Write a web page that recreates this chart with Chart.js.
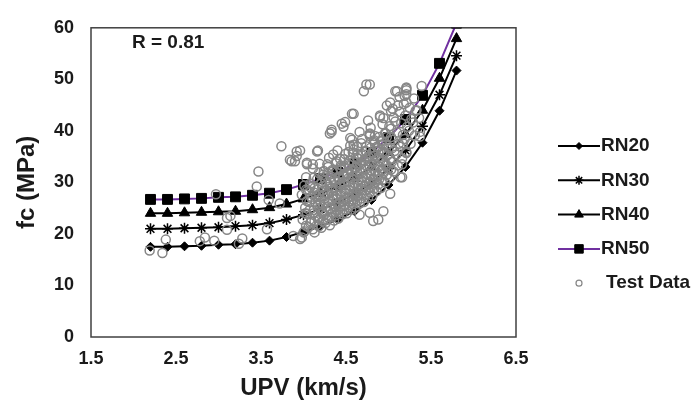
<!DOCTYPE html>
<html>
<head>
<meta charset="utf-8">
<script src="https://cdn.jsdelivr.net/npm/chart.js@4.4.1/dist/chart.umd.min.js"></script>
<style>
  html, body { margin: 0; padding: 0; background: #fff; }
  #wrap { width: 695px; height: 406px; }
</style>
</head>
<body>
<div id="wrap"><canvas id="fcChart" width="695" height="406"></canvas></div>
<script>
// UPV values shared by the four model curves
const upv = [2.2, 2.4, 2.6, 2.8, 3.0, 3.2, 3.4, 3.6, 3.8, 4.0, 4.2, 4.4, 4.6, 4.8, 5.0, 5.2, 5.4, 5.6, 5.8];

const rn20 = [17.5, 17.5, 17.6, 17.7, 17.9, 18.0, 18.3, 18.7, 19.4, 20.4, 21.5, 22.8, 24.4, 26.6, 29.5, 33.0, 37.7, 43.9, 51.7];
const rn30 = [21.0, 21.0, 21.1, 21.2, 21.3, 21.5, 21.7, 22.1, 22.8, 23.7, 24.8, 26.1, 27.7, 29.9, 32.7, 36.2, 40.9, 47.0, 54.6];
const rn40 = [24.0, 24.0, 24.1, 24.2, 24.3, 24.4, 24.7, 25.1, 25.8, 26.8, 27.9, 29.2, 30.8, 33.0, 35.8, 39.3, 44.0, 50.2, 57.9];
const rn50 = [26.7, 26.7, 26.8, 26.9, 27.1, 27.2, 27.5, 27.9, 28.6, 29.6, 30.7, 32.0, 33.6, 35.8, 38.7, 42.2, 46.9, 53.1, 60.9];

// test data [UPV, fc]
const testData = [
  [2.19, 16.8], [2.34, 16.3], [2.38, 18.9], [2.78, 18.6], [2.84, 19.3], [2.95, 18.7], [3.24, 18.1], [3.28, 19.1],
  [2.97, 27.7], [3.10, 23.1], [3.14, 23.5], [3.10, 20.8], [3.45, 29.2], [3.47, 32.1], [3.57, 20.9], [3.59, 26.6],
  [3.74, 37.0], [3.86, 34.1], [3.92, 36.0], [3.72, 25.9], [3.84, 34.4], [3.92, 35.1], [3.88, 19.6], [3.98, 19.3],
  [3.96, 19.0], [4.00, 20.3], [4.13, 20.3], [4.16, 36.0], [4.33, 39.8], [4.35, 35.4], [4.04, 33.5], [4.17, 36.2],
  [3.96, 36.2], [3.90, 34.1], [4.04, 33.8], [4.11, 33.5], [4.31, 39.5], [4.33, 40.2], [4.47, 40.8], [4.49, 41.7],
  [4.45, 41.4], [4.59, 43.3], [4.57, 43.3], [4.74, 49.0], [4.71, 47.7], [4.78, 49.0], [5.10, 47.7], [5.08, 47.7],
  [5.21, 48.2], [5.21, 48.4], [5.19, 46.8], [5.21, 47.1], [4.76, 42.0], [4.90, 42.7], [4.90, 43.0], [5.02, 45.5],
  [5.05, 44.3], [4.98, 44.9], [4.66, 39.8], [4.78, 39.5], [4.78, 39.0], [4.55, 38.6], [4.57, 38.3], [4.59, 37.3],
  [5.39, 48.7], [5.21, 45.5], [5.37, 39.8], [5.37, 38.9], [5.17, 37.6], [5.21, 35.7], [5.16, 33.5], [5.16, 31.0],
  [5.33, 44.0], [5.36, 42.5], [4.94, 24.4], [4.82, 22.5], [4.88, 22.8], [4.78, 24.1], [4.66, 23.7], [5.02, 27.8],
  [5.14, 31.0],
  [4.01, 20.5], [3.99, 22.8], [4.02, 25.1], [3.98, 27.6], [4.01, 29.4],
  [4.06, 21.3], [4.04, 23.9], [4.07, 26.2], [4.05, 28.5], [4.03, 31.0],
  [4.11, 20.9], [4.09, 22.4], [4.12, 24.6], [4.10, 26.8], [4.08, 29.1], [4.11, 32.7],
  [4.16, 21.8], [4.14, 23.5], [4.17, 25.4], [4.15, 27.3], [4.13, 28.9], [4.16, 30.6],
  [4.21, 21.2], [4.19, 22.9], [4.22, 24.3], [4.20, 26.0], [4.18, 27.7], [4.21, 29.8], [4.23, 31.5], [4.19, 33.6],
  [4.26, 22.1], [4.24, 23.6], [4.27, 25.2], [4.25, 26.9], [4.23, 28.4], [4.26, 30.3], [4.24, 32.2],
  [4.31, 21.7], [4.29, 23.2], [4.32, 24.8], [4.30, 26.4], [4.28, 27.9], [4.31, 29.2], [4.33, 31.1], [4.29, 33.0], [4.30, 34.8],
  [4.36, 22.6], [4.34, 24.1], [4.37, 25.7], [4.35, 27.3], [4.33, 28.8], [4.36, 30.5], [4.34, 32.4],
  [4.41, 23.0], [4.39, 24.5], [4.42, 26.1], [4.40, 27.6], [4.38, 29.0], [4.41, 30.9], [4.43, 32.8], [4.39, 34.1], [4.40, 36.2],
  [4.46, 23.8], [4.44, 25.3], [4.47, 26.7], [4.45, 28.2], [4.43, 29.7], [4.46, 31.4], [4.44, 33.3],
  [4.51, 24.0], [4.49, 25.6], [4.52, 27.0], [4.50, 28.6], [4.48, 30.1], [4.51, 31.8], [4.53, 33.6], [4.49, 35.5],
  [4.56, 24.7], [4.54, 26.3], [4.57, 27.8], [4.55, 29.3], [4.53, 30.8], [4.56, 32.5], [4.54, 34.2], [4.55, 37.1],
  [4.61, 25.1], [4.59, 26.6], [4.62, 28.1], [4.60, 29.8], [4.58, 31.2], [4.61, 32.9], [4.63, 34.8], [4.59, 36.4],
  [4.66, 25.9], [4.64, 27.4], [4.67, 28.9], [4.65, 30.4], [4.63, 32.0], [4.66, 33.7], [4.64, 35.5],
  [4.71, 26.2], [4.69, 27.8], [4.72, 29.4], [4.70, 31.0], [4.68, 32.6], [4.71, 34.3], [4.73, 36.1], [4.69, 38.4],
  [4.76, 27.0], [4.74, 28.5], [4.77, 30.1], [4.75, 31.7], [4.73, 33.4], [4.76, 35.0], [4.74, 37.0],
  [4.81, 27.4], [4.79, 29.0], [4.82, 30.7], [4.80, 32.3], [4.78, 34.0], [4.81, 35.8], [4.83, 38.2], [4.79, 40.6],
  [4.86, 28.3], [4.84, 29.9], [4.87, 31.5], [4.85, 33.2], [4.83, 35.1], [4.86, 36.9], [4.84, 39.0],
  [4.91, 28.9], [4.89, 30.6], [4.92, 32.4], [4.90, 34.1], [4.88, 36.0], [4.91, 38.1], [4.93, 41.3],
  [4.96, 30.0], [4.94, 31.8], [4.97, 33.6], [4.95, 35.5], [4.93, 37.4], [4.96, 39.6], [4.94, 42.5],
  [5.01, 30.8], [4.99, 32.7], [5.02, 34.6], [5.00, 36.6], [4.98, 38.8], [5.01, 40.9], [5.03, 43.8],
  [5.06, 32.1], [5.04, 34.0], [5.07, 36.1], [5.05, 38.3], [5.03, 40.4], [5.06, 42.6],
  [5.11, 33.3], [5.09, 35.4], [5.12, 37.5], [5.10, 39.7], [5.08, 41.8], [5.11, 44.9], [5.13, 46.6],
  [5.16, 34.7], [5.14, 36.9], [5.17, 39.2], [5.15, 41.5], [5.13, 43.7],
  [5.21, 35.9], [5.19, 38.4], [5.22, 40.8], [5.20, 43.0], [5.18, 45.2], [5.21, 47.9],
  [5.26, 37.5], [5.24, 40.0], [5.27, 42.3], [5.25, 44.5],
  [5.31, 39.1], [5.29, 41.6], [5.32, 43.9], [5.30, 46.3],
  [4.03, 21.6], [4.02, 24.0], [4.04, 26.4], [4.03, 28.6],
  [4.08, 22.1], [4.07, 24.6], [4.09, 27.2], [4.08, 29.8],
  [4.13, 22.5], [4.12, 24.0], [4.14, 26.1], [4.13, 28.0], [4.12, 30.9],
  [4.18, 21.5], [4.17, 23.2], [4.19, 25.0], [4.18, 26.7], [4.17, 28.6], [4.18, 31.8],
  [4.23, 22.4], [4.22, 24.0], [4.24, 25.7], [4.23, 27.4], [4.22, 29.1], [4.24, 31.0],
  [4.28, 22.8], [4.27, 24.4], [4.29, 26.0], [4.28, 27.7], [4.27, 29.6], [4.29, 31.7], [4.28, 33.5],
  [4.33, 23.3], [4.32, 25.0], [4.34, 26.8], [4.33, 28.4], [4.32, 30.0], [4.34, 32.1],
  [4.38, 23.6], [4.37, 25.3], [4.39, 26.9], [4.38, 28.5], [4.37, 30.2], [4.39, 31.9], [4.38, 33.7],
  [4.43, 24.2], [4.42, 25.9], [4.44, 27.5], [4.43, 29.2], [4.42, 30.8], [4.44, 32.5], [4.43, 34.6],
  [4.48, 24.8], [4.47, 26.3], [4.49, 27.9], [4.48, 29.5], [4.47, 31.2], [4.49, 32.9], [4.48, 34.5],
  [4.53, 25.2], [4.52, 26.9], [4.54, 28.5], [4.53, 30.1], [4.52, 31.7], [4.54, 33.4], [4.53, 35.9],
  [4.58, 25.8], [4.57, 27.3], [4.59, 29.0], [4.58, 30.6], [4.57, 32.2], [4.59, 34.0], [4.58, 35.8],
  [4.63, 26.3], [4.62, 27.9], [4.64, 29.6], [4.63, 31.3], [4.62, 32.9], [4.64, 34.6], [4.63, 36.9],
  [4.68, 26.9], [4.67, 28.5], [4.69, 30.1], [4.68, 31.8], [4.67, 33.5], [4.69, 35.2], [4.68, 37.6],
  [4.73, 27.5], [4.72, 29.2], [4.74, 30.8], [4.73, 32.5], [4.72, 34.2], [4.74, 36.0],
  [4.78, 28.1], [4.77, 29.8], [4.79, 31.5], [4.78, 33.2], [4.77, 34.9], [4.79, 36.7], [4.78, 39.3],
  [4.83, 28.8], [4.82, 30.5], [4.84, 32.2], [4.83, 34.0], [4.82, 35.8], [4.84, 37.8],
  [4.88, 29.6], [4.87, 31.3], [4.89, 33.1], [4.88, 34.9], [4.87, 36.8], [4.89, 38.8],
  [4.93, 30.5], [4.92, 32.3], [4.94, 34.1], [4.93, 36.0], [4.92, 38.0],
  [4.98, 31.5], [4.97, 33.3], [4.99, 35.3], [4.98, 37.3], [4.97, 39.5],
  [5.03, 32.5], [5.02, 34.5], [5.04, 36.6], [5.03, 38.8]
];

const xTicks = [1.5, 2.5, 3.5, 4.5, 5.5, 6.5];
const rText = 'R = 0.81';

const FONT = '"Liberation Sans", Arial, sans-serif';
const TEXT = '#1a1a1a';
const GREY = '#868686';
const PURPLE = '#7030a0';

function curve(label, values, style, radius, color, order) {
  return {
    label: label,
    data: upv.map((x, i) => ({ x: x, y: values[i] })),
    showLine: true,
    borderColor: color,
    borderWidth: 2,
    pointStyle: style,
    pointRadius: radius,
    pointBorderColor: '#000',
    pointBackgroundColor: '#000',
    pointBorderWidth: style === 'star' ? 1.5 : 1,
    order: order
  };
}

const datasets = [
  {
    label: 'Test Data',
    data: testData.map(p => ({ x: p[0], y: p[1] })),
    pointStyle: 'circle',
    pointRadius: 4.5,
    pointBorderWidth: 1.5,
    pointBorderColor: GREY,
    pointBackgroundColor: 'rgba(0,0,0,0)',
    showLine: false,
    order: 0
  },
  curve('RN20', rn20, 'rectRot', 4.5, '#000', 1),
  curve('RN30', rn30, 'star', 5.5, '#000', 2),
  curve('RN40', rn40, 'triangle', 6, '#000', 3),
  curve('RN50', rn50, 'rect', 7, PURPLE, 4)
];

// frame, R label and the Excel-like legend on the right
const extras = {
  id: 'extras',
  beforeDatasetsDraw(chart) {
    const a = chart.chartArea;
    const ctx = chart.ctx;
    ctx.save();
    ctx.strokeStyle = '#404040';
    ctx.lineWidth = 1.5;
    ctx.strokeRect(a.left, a.top, a.right - a.left, a.bottom - a.top);
    ctx.restore();
  },
  afterDraw(chart) {
    const ctx = chart.ctx;
    ctx.save();
    ctx.fillStyle = TEXT;
    ctx.font = 'bold 19px ' + FONT;
    ctx.textBaseline = 'middle';
    ctx.textAlign = 'left';
    ctx.fillText(rText, 132, 43);

    const items = [
      { text: 'RN20', style: 'rectRot', r: 3.5, line: '#000' },
      { text: 'RN30', style: 'star', r: 4.5, line: '#000' },
      { text: 'RN40', style: 'triangle', r: 5, line: '#000' },
      { text: 'RN50', style: 'rect', r: 6, line: PURPLE },
      { text: 'Test Data', style: 'circle', r: 3, line: null }
    ];
    items.forEach((it, i) => {
      const y = 146 + i * 34.3;
      if (it.line) {
        ctx.strokeStyle = it.line;
        ctx.lineWidth = 2;
        ctx.beginPath();
        ctx.moveTo(558, y);
        ctx.lineTo(600, y);
        ctx.stroke();
        ctx.fillStyle = '#000';
        ctx.strokeStyle = '#000';
        ctx.lineWidth = it.style === 'star' ? 1.5 : 1;
      } else {
        ctx.fillStyle = 'rgba(0,0,0,0)';
        ctx.strokeStyle = GREY;
        ctx.lineWidth = 1.2;
      }
      Chart.helpers.drawPoint(ctx, { pointStyle: it.style, radius: it.r, rotation: 0, borderWidth: ctx.lineWidth }, 579, y);
      ctx.fillStyle = TEXT;
      ctx.font = 'bold 19px ' + FONT;
      ctx.fillText(it.text, it.line ? 601 : 606, y);
    });
    ctx.restore();
  }
};

new Chart(document.getElementById('fcChart'), {
  type: 'scatter',
  data: { datasets: datasets },
  options: {
    responsive: false,
    animation: false,
    devicePixelRatio: 1,
    layout: { padding: { top: 20, right: 179, left: 0, bottom: 0 } },
    plugins: { legend: { display: false }, tooltip: { enabled: false } },
    scales: {
      x: {
        type: 'linear',
        min: 1.5,
        max: 6.5,
        afterBuildTicks: s => { s.ticks = xTicks.map(v => ({ value: v })); },
        afterFit: s => { s.height = 69; },
        grid: { display: false, drawTicks: false },
        border: { display: false },
        ticks: {
          padding: 11,
          color: TEXT,
          font: { family: FONT, size: 18, weight: 'bold' },
          callback: v => v.toFixed(1)
        },
        title: {
          display: true,
          text: 'UPV (km/s)',
          color: TEXT,
          font: { family: FONT, size: 24, weight: 'bold' },
          padding: { top: 0, bottom: 3 }
        }
      },
      y: {
        min: 0,
        max: 60,
        afterFit: s => { s.width = 91; },
        grid: { display: false, drawTicks: false },
        border: { display: false },
        ticks: {
          stepSize: 10,
          padding: 17,
          color: TEXT,
          font: { family: FONT, size: 18, weight: 'bold' }
        },
        title: {
          display: true,
          text: 'fc (MPa)',
          color: TEXT,
          font: { family: FONT, size: 24, weight: 'bold' },
          padding: { top: 13, bottom: 0 }
        }
      }
    }
  },
  plugins: [extras]
});
</script>
</body>
</html>
